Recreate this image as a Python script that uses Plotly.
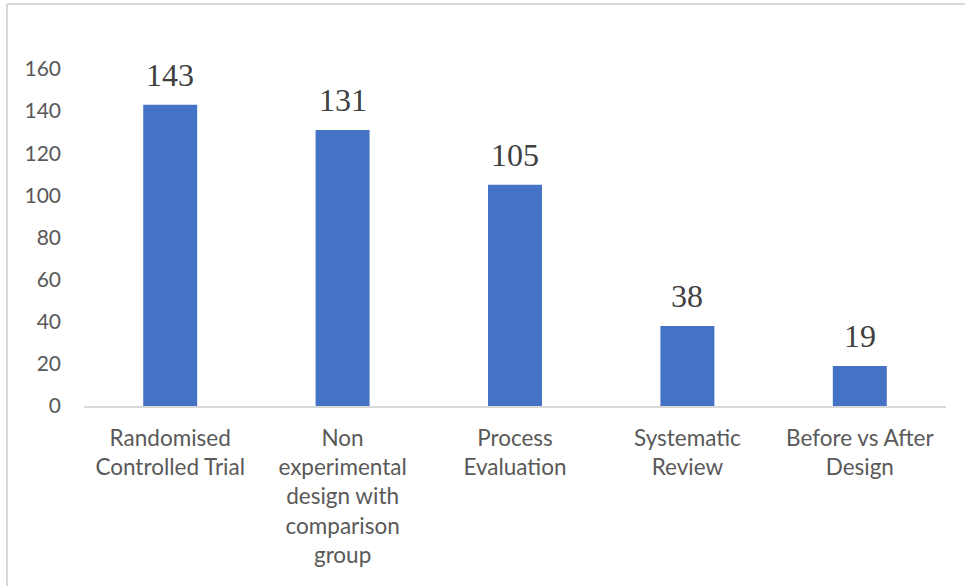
import plotly.graph_objects as go

categories = [
    "Randomised<br>Controlled Trial",
    "Non<br>experimental<br>design with<br>comparison<br>group",
    "Process<br>Evaluation",
    "Systematic<br>Review",
    "Before vs After<br>Design",
]
counts = [143, 131, 105, 38, 19]
y_ticks = [0, 20, 40, 60, 80, 100, 120, 140, 160]

BAR_COLOR = "#4472C4"
TEXT_COLOR = "#595959"
LABEL_COLOR = "#404040"
LINE_COLOR = "#D9D9D9"

fig = go.Figure(
    go.Bar(
        x=categories,
        y=counts,
        marker=dict(color=BAR_COLOR, line=dict(width=0)),
        hoverinfo="skip",
    )
)

# Value labels above each bar
for cat, val in zip(categories, counts):
    fig.add_annotation(
        x=cat, y=val, text=str(val), showarrow=False,
        yanchor="bottom", yshift=10,
        font=dict(family="Liberation Serif", size=32, color=LABEL_COLOR),
    )

# Chart frame (top and left edges)
fig.add_shape(type="line", xref="paper", yref="paper",
              x0=-0.0893, x1=1.03, y0=1.193, y1=1.193,
              line=dict(color=LINE_COLOR, width=2))
fig.add_shape(type="line", xref="paper", yref="paper",
              x0=-0.0893, x1=-0.0893, y0=1.193, y1=-0.55,
              line=dict(color=LINE_COLOR, width=2))

fig.update_layout(
    width=965, height=586,
    margin=dict(l=84, r=19, t=69, b=180),
    paper_bgcolor="white", plot_bgcolor="white",
    bargap=0.687,
    showlegend=False,
    font=dict(family="Lato", size=21, color=TEXT_COLOR),
)
fig.update_xaxes(
    showline=True, linecolor=LINE_COLOR, linewidth=1.5,
    showgrid=False, ticks="", ticklabelstandoff=11,
    tickfont=dict(family="Lato", size=22.5, color=TEXT_COLOR),
)
fig.update_yaxes(
    range=[0, 160], tickvals=y_ticks, showgrid=False, zeroline=False,
    showline=False, ticks="", ticklabelstandoff=22,
    tickfont=dict(family="Lato", size=21, color=TEXT_COLOR),
)

fig.write_html("out.html")
